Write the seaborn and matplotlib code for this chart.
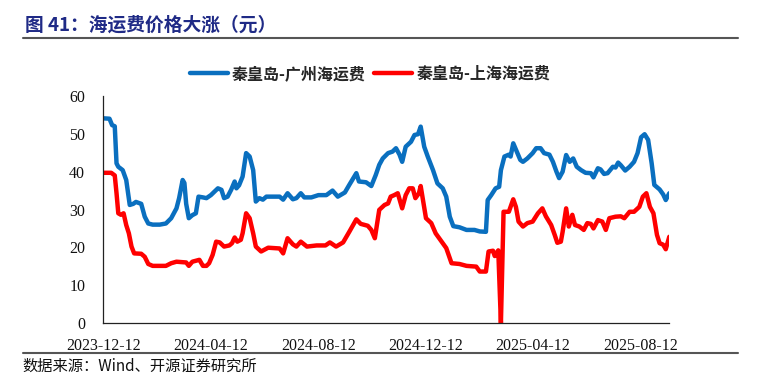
import pandas as pd
import seaborn as sns
import matplotlib.pyplot as plt
import matplotlib.dates as mdates
from matplotlib.lines import Line2D

# 秦皇岛-广州海运费
gz_dates = ['2023-12-12', '2023-12-19', '2023-12-22', '2023-12-25', '2023-12-27', '2023-12-29',
            '2024-01-03', '2024-01-07', '2024-01-11', '2024-01-15', '2024-01-18', '2024-01-24',
            '2024-01-28', '2024-02-01', '2024-02-06', '2024-02-14', '2024-02-21', '2024-02-27',
            '2024-03-04', '2024-03-07', '2024-03-11', '2024-03-13', '2024-03-15', '2024-03-18',
            '2024-03-22', '2024-03-26', '2024-03-29', '2024-04-03', '2024-04-07', '2024-04-12',
            '2024-04-16', '2024-04-20', '2024-04-24', '2024-04-27', '2024-05-01', '2024-05-05',
            '2024-05-09', '2024-05-11', '2024-05-14', '2024-05-18', '2024-05-22', '2024-05-26',
            '2024-05-30', '2024-06-02', '2024-06-06', '2024-06-10', '2024-06-14', '2024-06-29',
            '2024-07-03', '2024-07-08', '2024-07-14', '2024-07-18', '2024-07-23', '2024-07-27',
            '2024-08-04', '2024-08-12', '2024-08-21', '2024-08-28', '2024-09-03', '2024-09-11',
            '2024-09-16', '2024-09-24', '2024-09-27', '2024-10-05', '2024-10-11', '2024-10-16',
            '2024-10-20', '2024-10-24', '2024-10-30', '2024-11-04', '2024-11-08', '2024-11-12',
            '2024-11-15', '2024-11-19', '2024-11-25', '2024-11-29', '2024-12-03', '2024-12-06',
            '2024-12-10', '2024-12-14', '2024-12-20', '2024-12-25', '2024-12-31', '2025-01-04',
            '2025-01-08', '2025-01-12', '2025-01-19', '2025-01-27', '2025-02-05', '2025-02-11',
            '2025-02-18', '2025-02-20', '2025-02-24', '2025-03-01', '2025-03-05', '2025-03-07',
            '2025-03-11', '2025-03-16', '2025-03-18', '2025-03-21', '2025-03-25', '2025-03-29',
            '2025-04-01', '2025-04-06', '2025-04-12', '2025-04-16', '2025-04-21', '2025-04-25',
            '2025-05-01', '2025-05-05', '2025-05-09', '2025-05-12', '2025-05-16', '2025-05-20',
            '2025-05-24', '2025-05-28', '2025-06-01', '2025-06-06', '2025-06-11', '2025-06-17',
            '2025-06-20', '2025-06-25', '2025-06-28', '2025-07-02', '2025-07-06', '2025-07-12',
            '2025-07-15', '2025-07-18', '2025-07-21', '2025-07-26', '2025-07-31', '2025-08-05',
            '2025-08-09', '2025-08-13', '2025-08-17', '2025-08-21', '2025-08-25', '2025-08-28',
            '2025-09-03', '2025-09-07', '2025-09-10', '2025-09-14']
gz_values = [54.1, 54.0, 52.3, 52.0, 42.2, 41.3,
             40.4, 37.8, 31.2, 31.5, 32.0, 31.5,
             28.1, 26.3, 26.0, 26.0, 26.3, 27.7,
             30.3, 33.0, 37.8, 37.0, 31.5, 27.7,
             28.5, 29.0, 33.4, 33.2, 33.0, 33.8,
             34.7, 35.6, 35.2, 33.0, 33.4, 35.2,
             37.4, 35.6, 36.4, 38.7, 44.9, 44.0,
             40.4, 32.1, 33.0, 32.6, 33.4, 33.4,
             32.6, 34.3, 32.7, 33.0, 34.3, 33.2,
             33.2, 33.8, 33.8, 35.0, 33.4, 34.5,
             36.5, 39.6, 37.4, 37.2, 36.2, 39.1,
             41.8, 43.5, 44.9, 45.3, 46.2, 44.5,
             42.6, 46.6, 47.9, 49.7, 49.9, 51.9,
             46.6, 44.0, 40.4, 36.9, 35.6, 33.4,
             28.1, 25.6, 25.3, 24.6, 24.6, 24.2,
             24.1, 32.5, 33.8, 35.6, 36.0, 40.4,
             44.0, 44.5, 44.0, 47.5, 45.3, 43.1,
             42.6, 43.5, 44.9, 46.2, 46.2, 44.9,
             44.5, 42.6, 40.0, 38.3, 40.0, 44.4,
             42.6, 43.5, 41.3, 40.4, 39.7, 39.6,
             38.5, 40.9, 40.6, 39.4, 39.6, 41.3,
             41.1, 42.4, 41.7, 40.3, 41.3, 42.6,
             44.9, 49.1, 49.9, 48.4, 42.2, 36.5,
             35.3, 34.0, 32.5, 34.3]

# 秦皇岛-上海海运费
sh_dates = ['2023-12-12', '2023-12-21', '2023-12-25', '2023-12-27', '2023-12-29', '2024-01-01',
            '2024-01-04', '2024-01-07', '2024-01-10', '2024-01-13', '2024-01-16', '2024-01-24',
            '2024-01-28', '2024-02-01', '2024-02-06', '2024-02-21', '2024-02-27', '2024-03-04',
            '2024-03-15', '2024-03-18', '2024-03-22', '2024-03-30', '2024-04-03', '2024-04-07',
            '2024-04-10', '2024-04-14', '2024-04-18', '2024-04-22', '2024-04-27', '2024-05-03',
            '2024-05-06', '2024-05-09', '2024-05-12', '2024-05-16', '2024-05-18', '2024-05-22',
            '2024-05-26', '2024-05-30', '2024-06-02', '2024-06-08', '2024-06-16', '2024-06-29',
            '2024-07-03', '2024-07-08', '2024-07-14', '2024-07-18', '2024-07-23', '2024-07-30',
            '2024-08-10', '2024-08-20', '2024-08-25', '2024-09-01', '2024-09-09', '2024-09-16',
            '2024-09-24', '2024-09-29', '2024-10-07', '2024-10-11', '2024-10-15', '2024-10-20',
            '2024-10-26', '2024-10-30', '2024-11-02', '2024-11-06', '2024-11-10', '2024-11-15',
            '2024-11-19', '2024-11-23', '2024-11-27', '2024-11-30', '2024-12-04', '2024-12-06',
            '2024-12-12', '2024-12-18', '2024-12-23', '2024-12-31', '2025-01-04', '2025-01-10',
            '2025-01-19', '2025-01-27', '2025-02-07', '2025-02-11', '2025-02-18', '2025-02-21',
            '2025-02-26', '2025-02-28', '2025-03-04', '2025-03-07', '2025-03-10', '2025-03-16',
            '2025-03-21', '2025-03-24', '2025-03-27', '2025-04-01', '2025-04-06', '2025-04-12',
            '2025-04-18', '2025-04-23', '2025-04-27', '2025-05-03', '2025-05-07', '2025-05-10',
            '2025-05-14', '2025-05-16', '2025-05-20', '2025-05-23', '2025-05-27', '2025-05-30',
            '2025-06-04', '2025-06-09', '2025-06-13', '2025-06-17', '2025-06-20', '2025-06-25',
            '2025-06-30', '2025-07-04', '2025-07-08', '2025-07-15', '2025-07-21', '2025-07-25',
            '2025-07-31', '2025-08-05', '2025-08-11', '2025-08-15', '2025-08-19', '2025-08-23',
            '2025-08-27', '2025-08-31', '2025-09-03', '2025-09-07', '2025-09-10', '2025-09-14']
sh_values = [39.7, 39.7, 39.0, 34.3, 29.0, 28.6,
             29.0, 25.9, 23.7, 20.2, 18.4, 18.3,
             17.5, 15.6, 15.1, 15.1, 15.8, 16.2,
             16.0, 15.1, 16.2, 16.7, 15.1, 15.1,
             15.8, 18.0, 21.5, 21.3, 20.2, 20.5,
             21.1, 22.6, 21.5, 22.0, 23.7, 29.0,
             27.7, 23.7, 20.2, 18.9, 19.9, 19.7,
             18.4, 22.4, 20.8, 20.2, 21.5, 20.2,
             20.5, 20.5, 21.3, 20.2, 21.3, 24.1,
             27.4, 26.2, 25.7, 24.6, 22.4, 29.9,
             31.2, 31.6, 33.4, 33.8, 34.3, 30.3,
             33.8, 35.6, 35.6, 33.0, 34.3, 36.2,
             27.7, 26.4, 23.7, 21.1, 19.8, 15.8,
             15.6, 15.1, 14.9, 13.6, 13.6, 18.9,
             19.1, 17.7, 19.2, 0.0, 29.4, 29.4,
             32.7, 30.7, 26.8, 25.5, 26.4, 26.8,
             29.0, 30.3, 28.2, 25.9, 23.3, 21.2,
             21.5, 24.1, 30.3, 25.5, 28.6, 25.9,
             25.5, 24.6, 26.4, 26.2, 25.0, 27.2,
             26.8, 24.6, 27.7, 28.1, 28.2, 27.7,
             29.4, 29.4, 30.7, 33.4, 34.3, 30.7,
             29.0, 23.3, 21.1, 20.7, 19.5, 22.8]

series_names = ['秦皇岛-广州海运费', '秦皇岛-上海海运费']
colors = ['#0A6FBF', '#FF0000']
xtick_labels = ['2023-12-12', '2024-04-12', '2024-08-12', '2024-12-12', '2025-04-12', '2025-08-12']
yticks = [0, 10, 20, 30, 40, 50, 60]

df = pd.concat([
    pd.DataFrame({'date': pd.to_datetime(gz_dates), 'value': gz_values, 'series': series_names[0]}),
    pd.DataFrame({'date': pd.to_datetime(sh_dates), 'value': sh_values, 'series': series_names[1]}),
])

sns.set_style('white')
plt.rcParams['font.family'] = ['Liberation Serif', 'Noto Sans CJK SC']

fig = plt.figure(figsize=(7.67, 3.88), dpi=100)
ax = fig.add_axes([103.3 / 767, 65 / 388, (669.3 - 103.3) / 767, (323 - 96) / 388])

sns.lineplot(data=df, x='date', y='value', hue='series', hue_order=series_names,
             palette=colors, linewidth=3.2, legend=False, ax=ax, estimator=None)

ax.set_xlim(df['date'].min(), df['date'].max())
ax.set_ylim(0, 60)
ax.set_yticks(yticks)
ax.set_xticks(pd.to_datetime(xtick_labels))
ax.set_xticklabels(xtick_labels)
ax.set_xlabel('')
ax.set_ylabel('')
for side in ['top', 'right']:
    ax.spines[side].set_visible(False)
for side in ['left', 'bottom']:
    ax.spines[side].set_color('#222222')
    ax.spines[side].set_linewidth(0.9)
ax.tick_params(axis='both', direction='in', length=4, width=0.8, color='#222222',
               labelsize=11.5, labelcolor='#111111')
ax.tick_params(axis='x', pad=11)
ax.tick_params(axis='y', pad=13)

handles = [Line2D([], [], color=c, linewidth=3.2) for c in colors]
leg = fig.legend(handles, series_names, loc='center', bbox_to_anchor=(370 / 767, 1 - 74 / 388),
                 ncol=2, frameon=False, handlelength=2.4, handletextpad=0.25, columnspacing=0.5,
                 prop={'family': ['Noto Sans CJK SC'], 'weight': 'bold', 'size': 11.5})

# title and source with rules
fig.text(25 / 767, 1 - 25 / 388, '图 41：海运费价格大涨（元）', family=['Noto Sans CJK SC'],
         fontsize=13.5, fontweight='bold', color='#1F2A86', va='center', ha='left')
fig.add_artist(Line2D([22.7 / 767, 738 / 767], [1 - 37.7 / 388] * 2, color='#555555', linewidth=1.5))
fig.add_artist(Line2D([22.7 / 767, 738 / 767], [1 - 353.3 / 388] * 2, color='#555555', linewidth=1.5))
fig.text(22.7 / 767, 1 - 366.7 / 388, '数据来源：Wind、开源证券研究所', family=['Noto Sans CJK SC'],
         fontsize=11, color='#111111', va='center', ha='left')

fig.savefig('out.png', dpi=100)
